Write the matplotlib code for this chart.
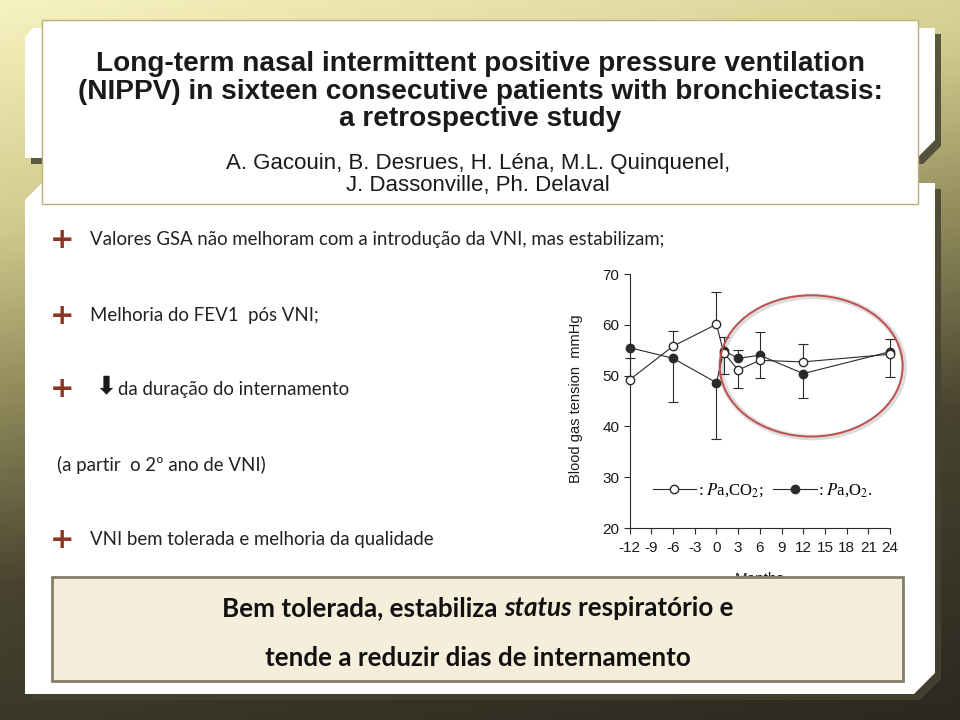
import numpy as np
import matplotlib
matplotlib.use("Agg")
import matplotlib.pyplot as plt
from matplotlib.patches import Polygon, Rectangle, Ellipse
from matplotlib.lines import Line2D
from matplotlib.colors import LinearSegmentedColormap

months = [-12, -6, 0, 1, 3, 6, 12, 24]
paco2 = [49.2, 55.8, 60.1, 54.5, 51.1, 53.0, 52.7, 54.2]
pao2 = [55.5, 53.4, 48.6, 54.9, 53.4, 54.0, 50.4, 54.7]
# end of the single error bar shown for each point
paco2_bar = [53.4, 58.8, 66.4, 50.4, 47.5, 49.6, 56.2, 49.8]
pao2_bar = [np.nan, 44.8, 37.5, 57.5, 55.0, 58.6, 45.6, 57.2]
x_ticks = [-12, -9, -6, -3, 0, 3, 6, 9, 12, 15, 18, 21, 24]
y_ticks = [20, 30, 40, 50, 60, 70]

title_lines = ["Long-term nasal intermittent positive pressure ventilation",
               "(NIPPV) in sixteen consecutive patients with bronchiectasis:",
               "a retrospective study"]
author_lines = ["A. Gacouin, B. Desrues, H. Léna, M.L. Quinquenel,",
                "J. Dassonville, Ph. Delaval"]
bullets = ["Valores GSA não melhoram com a introdução da VNI, mas estabilizam;",
           "Melhoria do FEV1  pós VNI;",
           "da duração do internamento",
           "(a partir  o 2º ano de VNI)",
           "VNI bem tolerada e melhoria da qualidade"]

plt.rcParams["axes.unicode_minus"] = False
plt.rcParams["mathtext.fontset"] = "stix"

fig = plt.figure(figsize=(9.6, 7.2), dpi=100)

# slide background, pixel coordinates
bg = fig.add_axes([0, 0, 1, 1])
bg.set_xlim(0, 960)
bg.set_ylim(720, 0)
bg.axis("off")
yy, xx = np.mgrid[0:720:4, 0:960:4]
t = 0.8 * yy / 720 + 0.2 * xx / 960
cmap = LinearSegmentedColormap.from_list(
    "slide", [(0, "#f7f3bf"), (0.25, "#d2ca8c"), (0.45, "#8c8659"),
              (0.65, "#48442f"), (1, "#2a2820")])
bg.imshow(t, cmap=cmap, extent=(0, 960, 720, 0), aspect="auto",
          vmin=0, vmax=1, interpolation="bilinear")

top_back = np.array([(25, 37), (33, 28), (935, 28), (935, 140), (917, 158), (25, 158)])
content = np.array([(25, 200), (42, 183), (935, 183), (935, 673), (914, 694), (25, 694)])
for shape in (top_back, content):
    bg.add_patch(Polygon(shape + 6, closed=True, fc="#454231", ec="none", alpha=0.85))
    bg.add_patch(Polygon(shape, closed=True, fc="white", ec="none"))
bg.add_patch(Rectangle((42, 20), 876, 184, fc="white", ec="#b8b27a", lw=1))

for y, line in zip([64, 92, 119], title_lines):
    bg.text(480, y, line, ha="center", va="center", fontsize=20.2,
            fontweight="bold", family="Liberation Sans", color="#1a1a1a")
for y, line in zip([164, 185], author_lines):
    bg.text(478, y, line, ha="center", va="center", fontsize=16,
            family="Liberation Sans", color="#1a1a1a")

bullet_y = [240, 316, 389, 465, 540]
text_x = [90, 90, 118, 57, 90]
for i, (y, x, line) in enumerate(zip(bullet_y, text_x, bullets)):
    if i != 3:
        bg.text(62, y, "+", ha="center", va="center", fontsize=21,
                fontweight="bold", family="DejaVu Sans", color="#8b3525")
    bg.text(x, y, line, ha="left", va="center", fontsize=13.4,
            family="Lato", color="#222222")
bg.text(106, 386, "⬇", ha="center", va="center", fontsize=18,
        family=["DejaVu Sans"], fontweight="bold", color="#1a1a1a")

# the chart
ax = fig.add_axes([629.7 / 960, 1 - 528 / 720, 260.3 / 960, 254 / 720], zorder=2)
ax.set_facecolor("none")
ink = "#2a2a2a"
for vals, ends in ((paco2, paco2_bar), (pao2, pao2_bar)):
    ax.vlines(months, vals, ends, color=ink, lw=0.8, clip_on=False)
    ax.plot(months, ends, ls="none", marker="_", ms=7, mew=0.8, color=ink, clip_on=False)
ax.plot(months, pao2, "-o", color=ink, lw=0.8, ms=6, mfc=ink, mec=ink, clip_on=False, zorder=3)
ax.plot(months, paco2, "-o", color=ink, lw=0.8, ms=6, mfc="white", mec=ink, clip_on=False, zorder=4)

ax.add_patch(Ellipse((13.3, 51.7), 25.3, 27.8, fc="none", ec="#bbbbbb", lw=4,
                     alpha=0.5, clip_on=False))
ax.add_patch(Ellipse((13.1, 51.9), 25.3, 27.8, fc="none", ec="#c0504d", lw=1.4,
                     clip_on=False, zorder=5))

ax.set_xlim(-12, 24)
ax.set_ylim(20, 70)
ax.set_xticks(x_ticks)
ax.set_yticks(y_ticks)
for s in ("top", "right"):
    ax.spines[s].set_visible(False)
for s in ("left", "bottom"):
    ax.spines[s].set_linewidth(0.8)
    ax.spines[s].set_color(ink)
ax.tick_params(direction="out", length=4, width=0.8, color=ink, labelsize=11,
               labelcolor="#1a1a1a")
ax.tick_params(axis="x", pad=5)
narrow = ["Liberation Sans Narrow", "Liberation Sans"]
for lab in ax.get_xticklabels() + ax.get_yticklabels():
    lab.set_family(narrow)
ax.set_ylabel("Blood gas tension  mmHg", family=narrow, fontsize=10.5, color="#1a1a1a")
ax.yaxis.set_label_coords(-0.18, 0.51)
ax.set_xlabel("Months", family=narrow, fontsize=11, color="#1a1a1a")
ax.xaxis.set_label_coords(0.5, -0.175)

h_open = Line2D([], [], color=ink, lw=0.8, marker="o", ms=6, mfc="white", mec=ink)
h_full = Line2D([], [], color=ink, lw=0.8, marker="o", ms=6, mfc=ink, mec=ink)
ax.legend([h_open, h_full], [r": $P$a,CO$_2$;", r": $P$a,O$_2$."], ncol=2,
          loc="center left", bbox_to_anchor=(0.03, 0.148), frameon=False,
          numpoints=1, handlelength=2.6, handletextpad=0.1, columnspacing=0.6,
          prop={"family": "Liberation Serif", "size": 12})

# conclusion box
fg = fig.add_axes([0, 0, 1, 1], zorder=3)
fg.set_xlim(0, 960)
fg.set_ylim(720, 0)
fg.axis("off")
fg.add_patch(Rectangle((52, 577), 851, 104, fc="#f5eeda", ec="#857d6a", lw=2))

box_font = dict(fontweight="bold", family="Lato", fontsize=18.7)
renderer = fig.canvas.get_renderer()
pieces = [("Bem tolerada, estabiliza", "normal"), ("status", "italic"),
          ("respiratório e", "normal")]
texts = [fg.text(0, 608, p, style=st, ha="left", va="center", color="#111111", **box_font)
         for p, st in pieces]
space = fg.text(0, 0, "a a", **box_font)
aa = fg.text(0, 0, "aa", **box_font)
gap = space.get_window_extent(renderer).width - aa.get_window_extent(renderer).width
space.remove()
aa.remove()
widths = [tx.get_window_extent(renderer).width for tx in texts]
x0 = 478 - (sum(widths) + 2 * gap) / 2
for tx, w in zip(texts, widths):
    tx.set_x(x0)
    x0 += w + gap
fg.text(478, 658, "tende a reduzir dias de internamento", ha="center",
        va="center", color="#111111", **box_font)

fig.savefig("out.png", dpi=100)
